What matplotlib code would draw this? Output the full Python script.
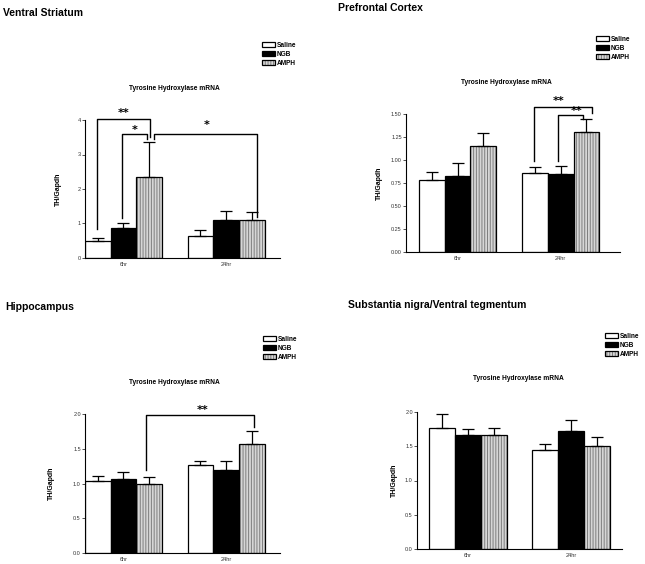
import numpy as np
import matplotlib.pyplot as plt
from matplotlib.legend_handler import HandlerTuple

plt.rcParams['font.family'] = ['Liberation Sans', 'DejaVu Sans']
plt.rcParams['hatch.linewidth'] = 0.7

W, H = 645, 564

times = ["6hr", "24hr"]
treatments = ["Saline", "NGB", "AMPH"]

# mean and upper SEM, rows = treatment, cols = time point
vs_mean = [[0.49, 0.65], [0.86, 1.11], [2.34, 1.11]]
vs_sem = [[0.10, 0.15], [0.14, 0.25], [1.02, 0.21]]
pfc_mean = [[0.78, 0.855], [0.83, 0.845], [1.15, 1.30]]
pfc_sem = [[0.09, 0.065], [0.14, 0.095], [0.14, 0.145]]
hip_mean = [[1.03, 1.26], [1.07, 1.20], [0.99, 1.57]]
hip_sem = [[0.08, 0.06], [0.10, 0.12], [0.11, 0.19]]
sn_mean = [[1.76, 1.45], [1.67, 1.72], [1.66, 1.51]]
sn_sem = [[0.21, 0.08], [0.08, 0.16], [0.10, 0.12]]

vs_ticks = [0, 1, 2, 3, 4]
pfc_ticks = [0.0, 0.25, 0.5, 0.75, 1.0, 1.25, 1.5]
half_ticks = [0.0, 0.5, 1.0, 1.5, 2.0]


def fx(px):
    return px / W


def fy(py):
    return 1 - py / H


# ── panel layout (pixel coords) ─────────────────────────────────
panels = [
    dict(title="Ventral Striatum", tpos=(3, 8), box=(85, 120, 280, 258),
         mean=vs_mean, sem=vs_sem, ticks=vs_ticks, fmt="{:.0f}",
         starts=(0.0, 4.0), xmax=7.6, sub=(174, 89), leg=(262, 42),
         ylab=62),
    dict(title="Prefrontal Cortex", tpos=(338, 3), box=(406, 114, 620, 252),
         mean=pfc_mean, sem=pfc_sem, ticks=pfc_ticks, fmt="{:.2f}",
         starts=(0.5, 4.5), xmax=8.3, sub=(506, 83), leg=(596, 36),
         ylab=383),
    dict(title="Hippocampus", tpos=(5, 302), box=(85, 414, 280, 553),
         mean=hip_mean, sem=hip_sem, ticks=half_ticks, fmt="{:.1f}",
         starts=(0.0, 4.0), xmax=7.6, sub=(174, 383), leg=(263, 336),
         ylab=55),
    dict(title="Substantia nigra/Ventral tegmentum", tpos=(348, 300),
         box=(417, 412, 622, 549),
         mean=sn_mean, sem=sn_sem, ticks=half_ticks, fmt="{:.1f}",
         starts=(0.45, 4.45), xmax=7.9, sub=(518, 379), leg=(605, 333),
         ylab=398),
]

# significance brackets: (x_left, y_left, x_right, y_right, y_top, label, label_x, label_y)
brackets = {
    0: [(0.45, 0.85, 2.55, 3.50, 4.02, "**", 1.5, 4.2),
        (1.45, 1.17, 2.40, 3.46, 3.58, "*", 1.95, 3.72),
        (2.70, 3.46, 6.72, 1.19, 3.58, "*", 4.73, 3.85)],
    1: [(4.95, 0.99, 7.20, 1.51, 1.58, "**", 5.9, 1.64),
        (5.90, 0.99, 6.88, 1.45, 1.49, "**", 6.6, 1.53)],
    2: [(2.37, 1.20, 6.59, 1.82, 1.98, "**", 4.6, 2.06)],
    3: [],
}

fig = plt.figure(figsize=(W / 100, H / 100), dpi=100)

for i, p in enumerate(panels):
    l, t, r, b = p["box"]
    ax = fig.add_axes([fx(l), fy(b), fx(r) - fx(l), fy(t) - fy(b)])
    ax.set_xlim(0, p["xmax"])
    ax.set_ylim(p["ticks"][0], p["ticks"][-1])

    mean = np.array(p["mean"])
    sem = np.array(p["sem"])
    handles = []
    for k in range(3):
        xs = np.array(p["starts"]) + k + 0.5
        if k == 0:
            h = ax.bar(xs, mean[k], width=1.0, color="white", edgecolor="k",
                       linewidth=0.9, zorder=2)
        elif k == 1:
            h = ax.bar(xs, mean[k], width=1.0, color="black", edgecolor="k",
                       linewidth=0.9, zorder=2)
        else:
            h1 = ax.bar(xs, mean[k], width=1.0, color="#d6d6d6",
                        edgecolor="#7d7d7d", hatch="||||||", linewidth=0,
                        zorder=2)
            h2 = ax.bar(xs, mean[k], width=1.0, fill=False, edgecolor="k",
                        linewidth=0.9, zorder=3)
            h = (h1, h2)
        handles.append(h)
        ax.errorbar(xs, mean[k], yerr=[np.zeros(2), sem[k]], fmt="none",
                    ecolor="k", elinewidth=0.9, capsize=4.5, capthick=0.9,
                    zorder=4)

    for spine in ("top", "right"):
        ax.spines[spine].set_visible(False)
    for spine in ("left", "bottom"):
        ax.spines[spine].set_linewidth(0.8)
    ax.set_yticks(p["ticks"])
    ax.set_yticklabels([p["fmt"].format(v) for v in p["ticks"]])
    ax.tick_params(axis="y", length=2, width=0.6, labelsize=4, pad=1,
                   colors="#333333")
    centers = [s + 1.5 for s in p["starts"]]
    ax.set_xticks(centers)
    ax.set_xticklabels(times)
    ax.tick_params(axis="x", length=0, labelsize=4, pad=3, colors="#333333")

    ax.set_ylabel("TH/Gapdh", fontsize=5, fontweight="bold")
    ax.yaxis.set_label_coords((p["ylab"] - l) / (r - l), 0.5)

    for (x1, y1, x2, y2, yt, lab, lx, ly) in brackets[i]:
        ax.plot([x1, x1, x2, x2], [y1, yt, yt, y2], color="k", lw=1.0,
                clip_on=False, zorder=5)
        ax.text(lx, ly, lab, ha="center", va="center", fontsize=8,
                fontweight="bold", family="DejaVu Sans", clip_on=False)

    fig.text(fx(p["tpos"][0]), fy(p["tpos"][1]), p["title"], fontsize=7.5,
             fontweight="bold", ha="left", va="top")
    fig.text(fx(p["sub"][0]), fy(p["sub"][1]), "Tyrosine Hydroxylase mRNA",
             fontsize=4.8, fontweight="bold", ha="center", va="center")

    ax.legend(handles, treatments, loc="upper left",
              bbox_to_anchor=(fx(p["leg"][0]), fy(p["leg"][1])),
              bbox_transform=fig.transFigure, frameon=False,
              prop=dict(size=4.7, weight="bold"), handlelength=2.0,
              handleheight=0.8, handletextpad=0.2, labelspacing=0.3,
              borderpad=0, borderaxespad=0,
              handler_map={tuple: HandlerTuple(ndivide=1)})

fig.savefig("out.png", dpi=100)
